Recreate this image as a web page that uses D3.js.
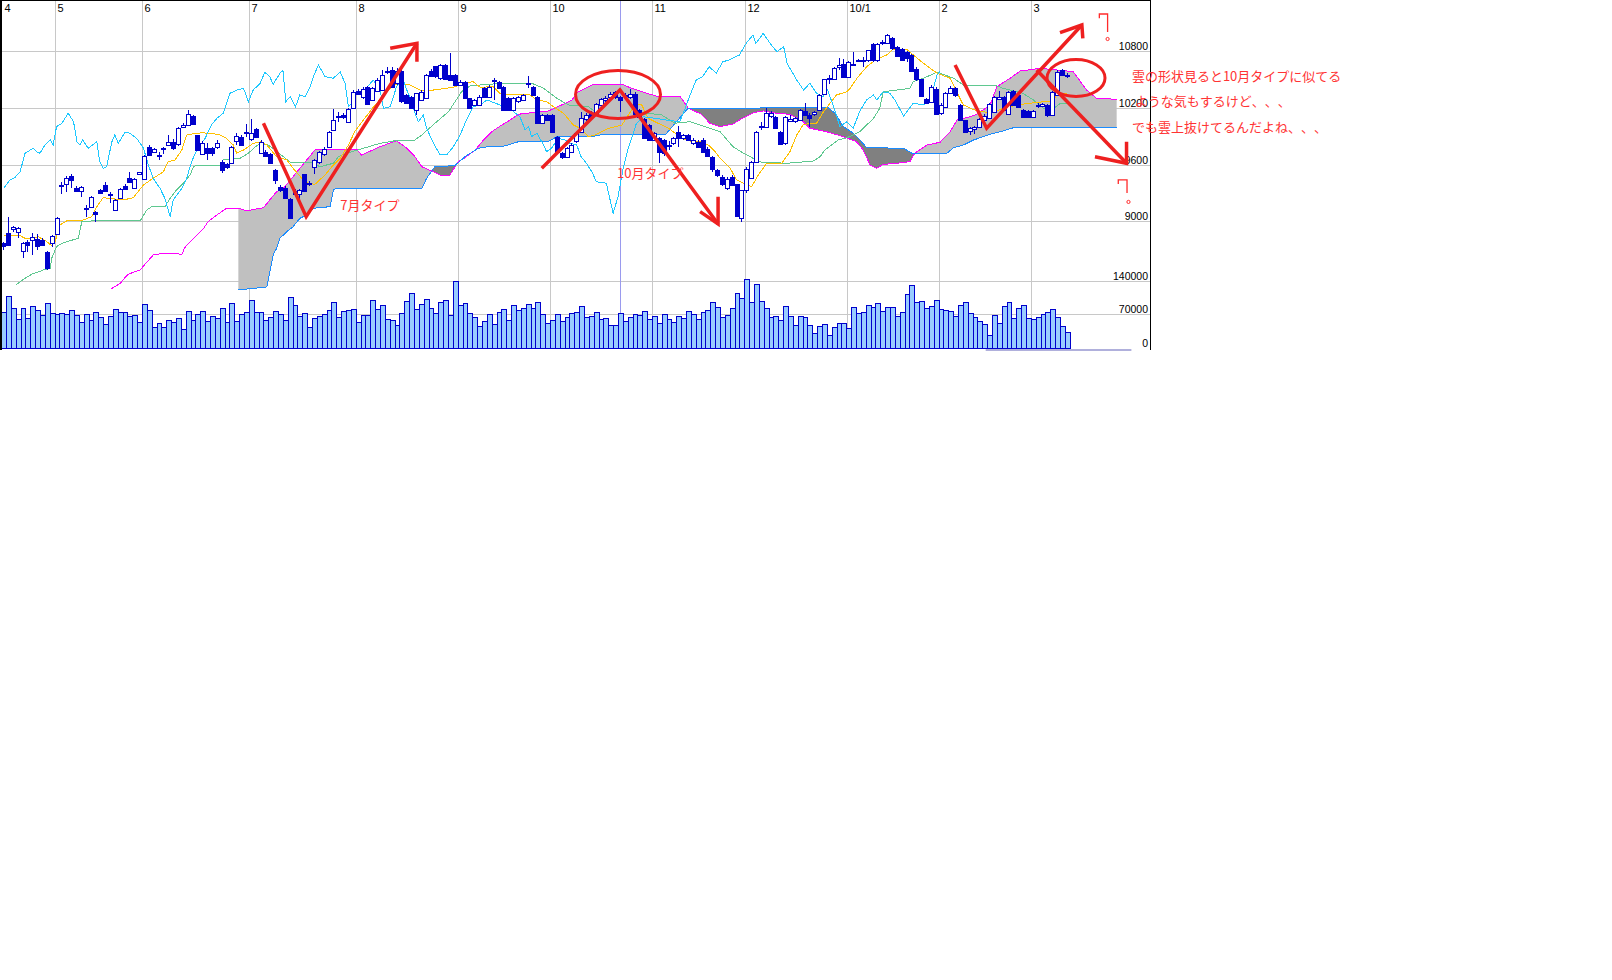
<!DOCTYPE html>
<html><head><meta charset="utf-8">
<script src="https://cdn.jsdelivr.net/npm/d3@7"></script>
<style>body{margin:0;background:#fff} .jp{text-spacing-trim:space-all;font-kerning:none}</style>
</head><body>
<svg id="c" width="1612" height="980"></svg>
<script>
// ---------------- DATA ----------------
const monthLabels = ["4","5","6","7","8","9","10","11","12","10/1","2","3"];
const monthStarts = [0,11,29,51,73,94,113,134,153,174,193,212];
const priceTicks = [10800,10200,9600,9000];
const volumeTicks = [140000,70000,0];
const cursorIndex = 127;

const opens = [
8775,8880,8925,8890,8690,8790,8810,8820,8810,8680,
8775,8870,9380,9396,9480,9360,9325,9140,9160,9100,
9335,9390,9288,9125,9255,9382,9460,9360,9510,9450,
9790,9735,9700,9770,9815,9840,9820,10000,10025,10119,
9915,9720,9776,9776,9787,9635,9610,9624,9857,9900,
9935,9871,9977,9730,9741,9716,9547,9371,9354,9242,
9325,9290,9500,9400,9582,9628,9712,9793,9968,10115,
10133,10049,10203,10379,10320,10422,10288,10380,10394,10590,
10606,10465,10588,10341,10323,10182,10288,10306,10595,10641,
10518,10659,10553,10553,10447,10482,10306,10235,10235,10412,
10323,10495,10482,10422,10306,10182,10271,10288,10460,10422,
10323,10041,10129,10129,9900,9730,9688,9741,9850,9953,
10090,10150,10144,10231,10290,10320,10372,10319,10330,10319,
10354,10179,10091,10021,9863,9880,9863,9805,9828,9951,
9880,9915,9830,9845,9863,9770,9687,9547,9477,9354,
9477,9396,9038,9336,9466,9628,10000,10003,10120,10108,
9951,9828,10070,10060,10073,10168,10130,10140,10179,10354,
10505,10512,10640,10670,10530,10665,10710,10700,10705,10880,
10705,10900,10891,10940,10845,10828,10790,10758,10617,10505,
10300,10266,10407,10150,10214,10365,10414,10231,10073,9960,
9985,10003,10080,10100,10161,10300,10319,10144,10379,10337,
10179,10168,10108,10220,10225,10231,10130,10340,10600,10555];
const highs = [
8790,9049,8960,8940,8790,8810,8880,8870,8830,8690,
8860,9055,9420,9480,9510,9380,9380,9180,9270,9110,
9350,9420,9320,9240,9360,9400,9530,9460,9530,9710,
9810,9780,9740,9785,9915,9870,10003,10040,10180,10130,
9920,9850,9828,9790,9860,9652,9620,9800,9933,9920,
10038,10091,9990,9860,9760,9730,9555,9390,9380,9250,
9350,9350,9510,9430,9660,9745,9790,9955,10196,10160,
10150,10200,10390,10400,10420,10430,10420,10520,10606,10630,
10640,10620,10600,10350,10330,10365,10390,10560,10610,10650,
10665,10670,10780,10560,10500,10490,10310,10300,10340,10420,
10440,10518,10490,10430,10320,10320,10330,10350,10535,10430,
10330,10140,10140,10140,9910,9740,9790,9830,9950,10160,
10150,10170,10260,10310,10330,10370,10380,10330,10360,10400,
10370,10190,10100,10030,9950,9900,9870,9850,9900,10010,
9930,9930,9880,9860,9880,9790,9700,9560,9490,9470,
9490,9400,9340,9580,9640,9960,10050,10200,10170,10120,
9960,10120,10130,10110,10190,10260,10150,10170,10350,10510,
10550,10640,10730,10720,10700,10790,10720,10740,10820,10890,
10890,10920,10980,10950,10860,10840,10800,10770,10640,10510,
10310,10440,10420,10250,10370,10430,10420,10240,10080,10000,
10010,10100,10140,10250,10330,10380,10330,10380,10390,10350,
10190,10180,10180,10250,10260,10240,10380,10600,10610,10570];
const lows = [
8700,8740,8890,8830,8620,8680,8650,8700,8740,8495,
8730,8860,9290,9310,9355,9310,9265,9055,9150,8995,
9290,9320,9195,9120,9250,9340,9405,9350,9500,9440,
9700,9730,9650,9720,9810,9755,9800,9990,10020,10020,
9750,9710,9652,9700,9770,9512,9560,9620,9810,9800,
9900,9850,9880,9720,9690,9610,9400,9320,9240,9030,
9285,9230,9320,9380,9500,9615,9700,9790,9960,10056,
10090,10040,10200,10340,10300,10240,10280,10370,10390,10560,
10420,10450,10260,10240,10190,10130,10280,10300,10530,10520,
10500,10500,10490,10440,10440,10300,10190,10220,10220,10310,
10310,10290,10400,10180,10170,10170,10260,10280,10412,10330,
10030,10030,10070,9940,9730,9665,9680,9730,9830,9940,
10060,10080,10130,10220,10270,10300,10300,10160,10300,10300,
10130,10090,9870,9850,9850,9620,9700,9760,9810,9790,
9860,9850,9810,9780,9730,9690,9530,9470,9380,9340,
9380,9060,9003,9300,9450,9620,9970,9990,10100,9980,
9810,9810,10050,10040,10060,10120,10000,10120,10170,10340,
10460,10500,10600,10520,10520,10650,10690,10640,10690,10690,
10690,10870,10880,10820,10740,10700,10690,10580,10490,10320,
10240,10250,10130,10130,10200,10350,10320,10060,9940,9920,
9930,9990,10060,10090,10150,10290,10170,10130,10220,10200,
10100,10100,10100,10200,10210,10110,10120,10330,10540,10520];
const closes = [
8740,8750,8950,8930,8775,8750,8840,8740,8750,8510,
8855,9040,9385,9460,9440,9330,9365,9145,9266,9080,
9300,9330,9292,9230,9347,9347,9425,9452,9522,9700,
9710,9768,9705,9775,9845,9775,9988,10025,10135,10034,
9757,9828,9730,9722,9829,9547,9582,9794,9907,9812,
9945,9935,9893,9847,9695,9624,9441,9336,9249,9038,
9290,9340,9325,9405,9652,9740,9768,9944,10073,10120,
10108,10196,10372,10354,10405,10246,10412,10500,10553,10595,
10429,10588,10271,10253,10200,10359,10376,10553,10542,10535,
10659,10507,10500,10447,10482,10306,10200,10288,10323,10323,
10429,10500,10412,10182,10182,10306,10323,10341,10465,10341,
10041,10129,10076,9953,9741,9688,9776,9812,9940,10094,
10129,10110,10249,10295,10310,10350,10319,10284,10335,10354,
10144,10108,9880,9863,9933,9740,9722,9815,9880,9880,
9915,9863,9860,9793,9740,9700,9557,9494,9396,9452,
9389,9066,9336,9557,9635,9951,10010,10154,10154,9993,
9817,10108,10090,10100,10179,10133,10100,10160,10344,10505,
10515,10625,10660,10530,10688,10670,10700,10705,10810,10705,
10880,10890,10968,10835,10750,10705,10730,10590,10505,10330,
10260,10424,10144,10230,10365,10414,10337,10073,9951,9993,
9998,10091,10120,10240,10319,10319,10179,10372,10231,10214,
10108,10108,10168,10235,10240,10126,10370,10580,10550,10550];
const volumes = [
75900,108700,82900,59900,82900,62000,87800,79400,69000,94700,
73800,71000,73800,71000,79400,68300,55000,70400,58500,74500,
65500,49500,67600,80800,74500,74500,66900,68300,53600,91200,
79400,44600,51500,43200,57800,55000,63400,39000,76600,58500,
70400,77300,57100,67600,62000,83600,53600,94700,57100,71000,
75900,101000,74500,75900,58500,64800,77300,70400,58500,107300,
89900,66000,72400,43200,62000,66900,70400,79400,96100,64100,
77300,79400,80800,55000,68300,68300,100300,80800,89900,59900,
58500,48100,72400,98200,114200,80800,91200,102400,84300,72400,
95400,100300,68300,140000,89900,93300,72400,65500,46000,56400,
70400,49500,74500,81500,57800,89900,78700,83600,91900,84300,
96100,70400,51500,57800,70400,56400,65500,72400,74500,87800,
64100,67600,74500,59900,62000,47400,47400,72400,55700,64100,
70400,68300,76600,59900,66900,51500,70400,59900,53600,66900,
62000,77300,71000,59900,74500,79400,95400,86400,64800,68300,
82900,114200,104500,143500,95400,133000,98900,82900,64800,66900,
57800,87100,67600,47400,67600,64800,47400,30700,46000,49500,
26500,43200,51500,51500,41100,85000,72400,74500,89200,85000,
93300,77300,85000,85000,66900,74500,112100,132300,95400,97500,
82900,87100,99600,80800,78700,77300,66900,89200,95400,72400,
64100,55700,49500,26500,68300,51500,87100,95400,62000,82900,
89200,62000,59900,64100,70400,74500,80800,64100,46000,32700];

// Ichimoku lines as [barIndex, price] vertices
const tenkan = [[0,8853],[3.4,8853],[4.4,8826],[6.1,8826],[7.1,8843],[8.9,8790],[9.9,8748],[10.6,8790],[11.6,8966],[13,9009],[16.4,9019],[18.1,9054],[19.2,9160],[20.5,9255],[24.6,9230],[26.7,9255],[28.8,9389],[30.8,9460],[32.9,9529],[33.9,9635],[35.3,9653],[36.7,9759],[37.7,9917],[38.4,9924],[40.8,9941],[44.2,9924],[45.9,9882],[47.3,9811],[48,9724],[49.4,9759],[51.4,9829],[53.1,9846],[54.2,9811],[56.2,9688],[58.3,9653],[59.6,9565],[61.4,9460],[62.7,9407],[64.1,9396],[66.2,9495],[67.9,9600],[69.3,9671],[71,9811],[72.3,9952],[73.4,10030],[76,10202],[78,10323],[80.2,10445],[83.3,10456],[85.7,10392],[88.5,10392],[92.6,10421],[94.6,10463],[96.7,10480],[98.1,10421],[100.8,10427],[102.2,10357],[104.9,10340],[108.4,10340],[109.8,10287],[111.8,10269],[113.2,10216],[115.3,10146],[117.3,10023],[118.7,9988],[120.4,9899],[121.8,9917],[124.6,9988],[127.3,10023],[130,10234],[131.4,10234],[132.7,10093],[134.1,10057],[136.9,9988],[139.6,9882],[141.7,9846],[143.7,9846],[145.1,9811],[146.5,9741],[147.5,9671],[149.6,9565],[150.9,9442],[152.3,9407],[154,9371],[155.4,9495],[157.1,9618],[160.2,9618],[161.9,9741],[163.3,9917],[164.6,10023],[166,10041],[167.4,10041],[168.8,10163],[171.5,10340],[173.6,10374],[174.3,10410],[175.7,10516],[177.7,10638],[179.8,10720],[181.8,10762],[183.2,10825],[185.9,10825],[187.3,10762],[189.4,10674],[192.2,10569],[194.9,10516],[196.2,10374],[197.6,10234],[200.4,10170],[202.4,10157],[204.5,10170],[205.8,10199],[208.6,10234],[211.3,10252],[214.1,10269],[216.2,10276],[216.9,10347],[219,10361]];
const kijun = [[2.5,8330],[4,8390],[5.8,8446],[8.2,8491],[9.6,8509],[9.9,8614],[10.9,8737],[12,8773],[13,8790],[15.4,8826],[16.1,9001],[18.1,9009],[28.1,9009],[29.5,9125],[30.5,9160],[33.2,9160],[34.3,9248],[35.3,9318],[37,9407],[38.4,9495],[39.1,9582],[39.8,9600],[44.9,9600],[45.2,9653],[48.7,9671],[50.4,9724],[51.8,9793],[53.1,9829],[54.5,9811],[55.9,9759],[59,9629],[63.4,9629],[65.1,9582],[67.9,9618],[68.9,9688],[70.6,9724],[73.4,9766],[77.5,9829],[80.9,9859],[84.4,9854],[86.1,9917],[88.8,10041],[91.6,10163],[94.3,10374],[96,10435],[98.1,10445],[100.8,10456],[109.1,10456],[111.2,10410],[112.1,10374],[113.9,10305],[116.3,10234],[120.4,10216],[123.1,10110],[127.3,10100],[131.4,10128],[132.7,10146],[135.5,10128],[138.2,10041],[141.3,10057],[145.4,9988],[147.5,9952],[150.2,9793],[152.3,9724],[155.8,9632],[161.2,9618],[166.7,9642],[168.1,9688],[169.1,9759],[171.8,9864],[173.6,9888],[174.9,9917],[176.3,9952],[179.1,10093],[180.4,10199],[181.1,10374],[183.9,10392],[186.6,10410],[187.3,10480],[189.4,10516],[192.2,10582],[195.6,10516],[197.6,10445],[204.5,10435],[205.8,10410],[209.9,10357],[212,10287],[214.1,10199],[216.2,10199],[217.6,10252],[219.6,10252]];
const chikou = [[0,9354],[1.3,9442],[2.3,9466],[3.4,9529],[4.4,9724],[6.1,9777],[6.8,9741],[7.5,9724],[8.5,9811],[9.6,9864],[10.2,9811],[10.9,10005],[12,10041],[13.3,10146],[14.4,10057],[15.1,9846],[15.7,9811],[16.3,9864],[17.4,9777],[19.2,9846],[19.8,9635],[20.5,9565],[21.2,9582],[22.3,9846],[22.9,9917],[23.6,9829],[25,9946],[26,9935],[27.4,9882],[28.8,9777],[29.8,9600],[30.8,9460],[32.2,9354],[33.2,9248],[34.3,9054],[34.9,9230],[36.7,9354],[37.7,9460],[38.7,9635],[39.8,9759],[41.5,9882],[42.8,10023],[43.9,10093],[45.2,10146],[46.6,10357],[48,10392],[49.4,10410],[50.4,10269],[51.4,10392],[52.8,10463],[53.8,10579],[54.8,10533],[55.5,10453],[56.9,10569],[57.5,10604],[58.1,10269],[59,10322],[60.1,10216],[61,10340],[62.1,10322],[63.1,10427],[63.8,10533],[64.8,10656],[66.2,10533],[67.9,10516],[69.3,10586],[70.3,10463],[71,10216],[71.7,10252],[72.7,10364],[74.1,10374],[76.1,10498],[77.5,10392],[78.2,10199],[79.6,10216],[80.9,10427],[82.3,10498],[83,10392],[84,10287],[84.7,10146],[85.4,10057],[86.4,10128],[87.1,9988],[88.5,9829],[89.9,9706],[91.2,9706],[92.6,9793],[94,9917],[95,10041],[96,10146],[96.7,10216],[98.1,10234],[99.5,10287],[102.2,10234],[104.3,10216],[105,10163],[106.3,10110],[107.4,9970],[108.1,10005],[108.7,9899],[109.8,9935],[110.8,9846],[111.8,9741],[112.8,9776],[114.2,9882],[115.6,9864],[116.6,9829],[118,9811],[118.9,9688],[120,9618],[121.3,9512],[122,9424],[124.1,9407],[125.5,9090],[126.5,9265],[127.5,9547],[128.6,9776],[130.3,10041],[131.7,10110],[134.1,10093],[136.5,10075],[139.2,10057],[140.2,10181],[141.2,10322],[142.6,10498],[143.9,10533],[145.3,10638],[146.7,10569],[148.1,10691],[149.4,10709],[151.5,10762],[152.9,10886],[154.3,10973],[154.9,10886],[156.4,10991],[157.8,10886],[159.2,10797],[160.6,10850],[161.3,10674],[163.3,10498],[164.7,10392],[166,10463],[167.4,10357],[168.8,10322],[169.5,10410],[170.9,10216],[172.2,10005],[173.6,10057],[174.9,9988],[176.4,10181],[177.7,10287],[179.1,10340],[179.8,10287],[181.1,10374],[182.5,10357],[183.5,10287],[185.3,10118],[187.3,10252],[189.4,10234],[190.8,10305],[192.2,10551],[192.8,10586]];
const senkouMagenta = [[22.1,8290],[24,8350],[25.6,8446],[28.1,8491],[29.1,8551],[30.8,8649],[32.9,8667],[34.9,8667],[36.7,8657],[37.3,8727],[39.1,8826],[41.1,8924],[42.1,9001],[43.9,9072],[45.9,9143],[48.3,9143],[50.1,9117],[53.5,9149],[56.2,9318],[57.6,9354],[59.6,9477],[64.1,9759],[67.9,9769],[72.7,9766],[73.7,9706],[77.5,9793],[80.9,9857],[83,9777],[84.7,9688],[86.1,9582],[88.1,9537],[90.2,9487],[91.9,9494],[93.6,9635],[95,9677],[97.1,9759],[98.8,9864],[100.5,9952],[102.6,10023],[104.3,10075],[106,10136],[109.4,10157],[112.2,10171],[114.9,10234],[117,10287],[118.3,10374],[121.1,10445],[127.3,10453],[129.3,10410],[132.4,10358],[134.8,10322],[139.3,10322],[141,10199],[143.7,10136],[145.4,10040],[147.5,10005],[150.2,10033],[152.3,10100],[154.4,10153],[156.4,10171],[159.2,10146],[161.9,10136],[164.6,10057],[166,9988],[169.4,9952],[172.9,9899],[175.6,9846],[177,9758],[178.4,9600],[179.8,9565],[181.1,9607],[183.9,9618],[186.6,9635],[187.6,9724],[190.1,9811],[192.8,9840],[194.9,9952],[196.3,10075],[199,10110],[200.4,10136],[203.1,10234],[204.5,10427],[207.2,10516],[209.3,10593],[212,10611],[213.4,10622],[220.2,10586],[223,10392],[225,10305],[229.2,10294]];
const senkouBlue = [[48.3,8280],[54.2,8312],[55.5,8649],[56.2,8720],[56.9,8826],[58.3,8896],[59.6,8948],[61,9037],[62.4,9072],[63.8,9143],[65.1,9149],[67.2,9160],[67.9,9336],[68.6,9354],[86.1,9354],[87.1,9460],[88.8,9582],[92.9,9593],[95,9688],[97.7,9777],[99.8,9793],[102.6,9793],[106,9846],[112.1,9846],[113.8,9896],[120.7,9896],[122.8,9917],[136.2,9917],[140.9,10199],[169.8,10205],[171.2,10146],[172.9,10005],[175,9935],[176.3,9864],[177.7,9783],[185.3,9777],[187,9724],[194.2,9724],[195.6,9783],[197.6,9811],[199.7,9864],[201.7,9899],[203.8,9935],[205.8,9959],[207.9,9994],[229.2,9994]];

// hand-drawn red annotations, in [barIndex, price] space
const redStrokes = [
 [[53.5,10041],[62.3,9054],[85.1,10886]],
 [[79.6,10833],[85.1,10886],[85.1,10691]],
 [[110.8,9565],[126.9,10392],[147.1,8977]],
 [[143.4,9107],[147.1,8977],[147.1,9265]],
 [[195.9,10656],[202.4,9988],[222.0,11079]],
 [[217.5,10998],[222.0,11079],[222.2,10938]],
 [[212.7,10604],[231.2,9618]],
 [[224.7,9688],[231.2,9618],[231.2,9846]]
];
const redEllipses = [[126.5,10345,8.75,253],[220.8,10519,5.97,195]];
const redTexts = [
 [69.3,9125,"7月タイプ"],
 [126.3,9463,"10月タイプ"],
 [232.3,10487,"雲の形状見ると10月タイプに似てる"],
 [232.9,10223,"ような気もするけど、、、"],
 [232.3,9949,"でも雲上抜けてるんだよね、、、"]
];
const questionMarks = [
 [[225.6,11150],[225.6,11195],[227.3,11195],[227.3,11005],[227.3,10931]],
 [[229.5,9400],[229.5,9442],[231.3,9442],[231.3,9304],[231.6,9210]]
];
const scrollThumb = [202.2, 232.2];

// ---------------- DRAW ----------------
const svg = d3.select('#c');
svg.append('rect').attr('width',1612).attr('height',980).attr('fill','#fff');
const step = 4.857;
const x = d3.scaleLinear().domain([0,236]).range([3.6, 3.6+step*236]);
const y = d3.scaleLinear().domain([9000,10800]).range([221.8,51.4]);
const yv = d3.scaleLinear().domain([0,140000]).range([348,281]);
const L = 2, R = 1150, T = 0, B = 348;

const grid = svg.append('g').attr('stroke','#c8c8c8').attr('shape-rendering','crispEdges');
priceTicks.forEach(t=>{const yy=Math.floor(y(t))+0.5; grid.append('line').attr('x1',L).attr('x2',R).attr('y1',yy).attr('y2',yy);});
volumeTicks.filter(t=>t>0).forEach(t=>{const yy=Math.floor(yv(t))+0.5; grid.append('line').attr('x1',L).attr('x2',R).attr('y1',yy).attr('y2',yy);});
monthStarts.forEach(i=>{ if(i===0) return; const gx=Math.floor(x(i)-1.6)+0.5; grid.append('line').attr('x1',gx).attr('x2',gx).attr('y1',T).attr('y2',B);});

// cloud
const ln = d3.line().x(d=>x(d[0])).y(d=>y(d[1]));
function closed(pts, edge){const a=pts[0], b=pts[pts.length-1]; return ln(pts)+`L${x(b[0])},${edge}L${x(a[0])},${edge}Z`;}
const startI = senkouBlue[0][0];
const magC = senkouMagenta.filter(d=>d[0]>=startI);
const defs = svg.append('defs');
defs.append('clipPath').attr('id','aboveBlue').append('path').attr('d',closed(senkouBlue,0));
defs.append('clipPath').attr('id','belowBlue').append('path').attr('d',closed(senkouBlue,360));
svg.append('path').attr('d',closed(magC,360)).attr('fill','#c0c0c0').attr('clip-path','url(#aboveBlue)');
svg.append('path').attr('d',closed(magC,0)).attr('fill','#808080').attr('clip-path','url(#belowBlue)');

// cursor line
const cxl = Math.round(x(cursorIndex))+0.5;
svg.append('line').attr('x1',cxl).attr('x2',cxl).attr('y1',T).attr('y2',B).attr('stroke','#9a9aee').attr('shape-rendering','crispEdges');

// indicator lines
const lines = [[senkouMagenta,'#ff00ff'],[senkouBlue,'#1a8cff'],[kijun,'#5fc890'],[tenkan,'#ffc000'],[chikou,'#1ec8ff']];
lines.forEach(([d,c])=>svg.append('path').attr('d',ln(d)).attr('fill','none').attr('stroke',c).attr('stroke-width',1).attr('shape-rendering','crispEdges'));

// candles
const cg = svg.append('g').attr('shape-rendering','crispEdges');
closes.forEach((c,i)=>{
  const o=opens[i], h=highs[i], l=lows[i];
  const x0 = Math.round(x(i)-2.5);
  cg.append('line').attr('x1',x0+2.5).attr('x2',x0+2.5).attr('y1',Math.round(y(h))).attr('y2',Math.round(y(l))).attr('stroke','#0000cc');
  const t = Math.round(y(Math.max(o,c))), b = Math.round(y(Math.min(o,c)));
  cg.append('rect').attr('x',x0+0.5).attr('y',t+0.5).attr('width',4).attr('height',Math.max(b-t,1))
    .attr('fill', c>=o ? '#ffffff' : '#0000cc').attr('stroke','#0000cc');
});

// volume
const vg = svg.append('g').attr('shape-rendering','crispEdges');
volumes.forEach((v,i)=>{
  const a=Math.round(x(i)-step/2), b=Math.round(x(i)+step/2);
  const top=Math.round(yv(v));
  vg.append('rect').attr('x',a+0.5).attr('y',top+0.5).attr('width',b-a).attr('height',Math.round(yv(0))-top)
    .attr('fill','#99ccff').attr('stroke','#0000cc');
});

// frame and scroll thumb
svg.append('rect').attr('x',x(scrollThumb[0])).attr('y',349).attr('width',x(scrollThumb[1])-x(scrollThumb[0])).attr('height',2).attr('fill','#b0b0dc');
const fr = svg.append('g').attr('stroke','#000').attr('shape-rendering','crispEdges');
fr.append('line').attr('x1',1).attr('x2',1).attr('y1',0).attr('y2',350).attr('stroke-width',2);
fr.append('line').attr('x1',0).attr('x2',1151).attr('y1',0.5).attr('y2',0.5);
fr.append('line').attr('x1',1150.5).attr('x2',1150.5).attr('y1',0).attr('y2',350);

// labels
const lab = svg.append('g').attr('font-family','"Liberation Sans", Arial, sans-serif').attr('fill','#000');
monthStarts.forEach((i,k)=>{ const gx=Math.floor(x(i)-1.6); lab.append('text').attr('x',Math.max(gx,1)+2.5).attr('y',12).attr('font-size',11).text(monthLabels[k]);});
priceTicks.forEach(t=>lab.append('text').attr('x',1148).attr('y',Math.floor(y(t))-1).attr('text-anchor','end').attr('font-size',10.5).text(t));
volumeTicks.forEach(t=>lab.append('text').attr('x',1148).attr('y',t===0?347:Math.floor(yv(t))-1).attr('text-anchor','end').attr('font-size',10.5).text(t));

// red annotations
const red = '#ee2020';
const pl = d3.line().x(d=>x(d[0])).y(d=>y(d[1]));
redStrokes.forEach(s=>svg.append('path').attr('d',pl(s)).attr('fill','none').attr('stroke',red).attr('stroke-width',3.5).attr('stroke-linejoin','miter'));
redEllipses.forEach(([ci,cp,rb,rp])=>svg.append('ellipse').attr('cx',x(ci)).attr('cy',y(cp)).attr('rx',x(rb)-x(0)).attr('ry',y(cp-rp)-y(cp)).attr('fill','none').attr('stroke',red).attr('stroke-width',3));
questionMarks.forEach(q=>{
  svg.append('path').attr('d',pl(q.slice(0,4))).attr('fill','none').attr('stroke','#ff2a2a').attr('stroke-width',1.3);
  const d=q[4]; svg.append('circle').attr('cx',x(d[0])).attr('cy',y(d[1])).attr('r',1.6).attr('fill','none').attr('stroke','#ff2a2a').attr('stroke-width',1);
});
redTexts.forEach(([i,p,t])=>svg.append('text').attr('class','jp').attr('x',x(i)).attr('y',y(p)).attr('font-family','"Noto Sans CJK JP", sans-serif').attr('font-size',13).attr('fill','#ff3333').text(t));
</script>
</body></html>
